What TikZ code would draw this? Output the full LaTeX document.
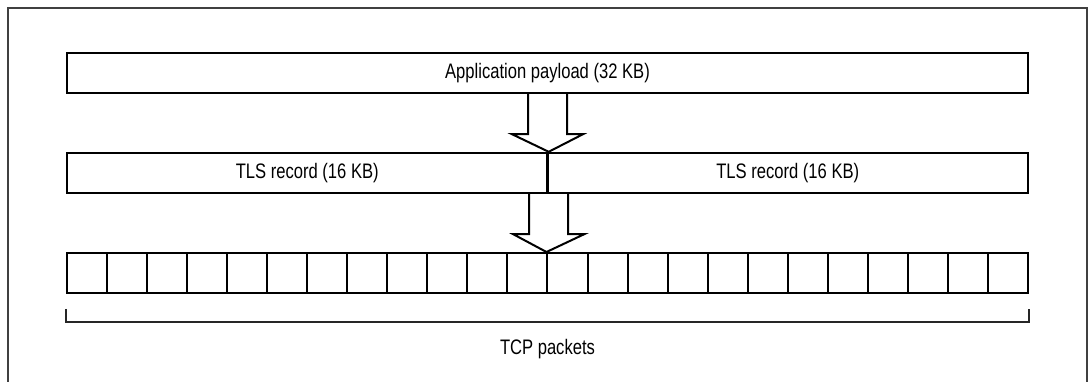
\documentclass[tikz,border=0pt]{standalone}
\usepackage{fontspec}
\setmainfont[FakeStretch=0.79]{Liberation Sans}
\usetikzlibrary{calc}

\begin{document}
\begin{tikzpicture}[
    x=1pt, y=-1pt,
    block/.style={draw, line width=2.4pt, minimum width=961pt, minimum height=40pt, inner sep=0pt, font=\fontsize{21}{24}\selectfont},
    half/.style={block, minimum width=480.5pt},
    cell/.style={draw, line width=2pt, minimum width=40.04pt, minimum height=40pt, inner sep=0pt},
    fatarrow/.style={draw, line width=2pt, fill=white, line join=miter},
    bracket/.style={draw=black!85, line width=1.2pt},
    frame/.style={draw=black!75, line width=1.6pt}
]
\useasboundingbox (0,0) rectangle (1088,382);
\draw[frame] (8,382) -- (8,8) -- (1087,8) -- (1087,382);

\node[block] (payload) at (547.5,73) {Application payload (32 KB)};
\node[half] (tlsa) at (307.25,173) {TLS record (16 KB)};
\node[half] (tlsb) at (787.75,173) {TLS record (16 KB)};
\coordinate (split) at (tlsa.north east);

\foreach \i in {0,...,23}
    \node[cell] (p\i) at ({87.02+40.04*\i},273) {};

% hollow arrows between the layers
\draw[fatarrow] ($(payload.south)+(-19.5,0)$) -- ++(0,40) -- ++(-16,0)
    -- (split) -- ($(payload.south)+(35.5,40)$) -- ++(-16,0) -- ($(payload.south)+(19.5,0)$);
\draw[fatarrow] ($(tlsa.south east)+(-19.5,0)$) -- ++(0,40) -- ++(-16,0)
    -- (p12.north west) -- ($(tlsa.south east)+(35.5,40)$) -- ++(-16,0) -- ($(tlsa.south east)+(19.5,0)$);

\draw[bracket] ($(p0.south west)+(0,15)$) -- ++(0,13) -| ($(p23.south east)+(0,15)$);
\node[font=\fontsize{21}{24}\selectfont] (tcp) at (547.5,349) {TCP packets};
\end{tikzpicture}
\end{document}
